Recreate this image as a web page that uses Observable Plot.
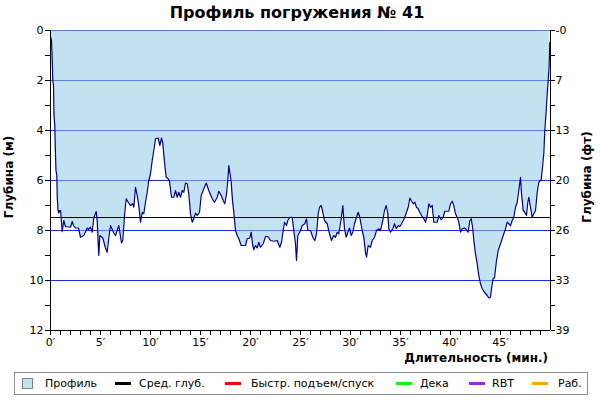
<!DOCTYPE html>
<html>
<head>
<meta charset="utf-8">
<script src="https://cdn.jsdelivr.net/npm/d3@7"></script>
<script src="https://cdn.jsdelivr.net/npm/@observablehq/plot@0.6"></script>
<style>
  html, body { margin: 0; padding: 0; background: #fff; }
  #wrap { position: relative; width: 600px; height: 400px; font-family: "DejaVu Sans", Verdana, sans-serif; color: #000; }
  #chart { position: absolute; left: 0; top: 0; }
  .title { position: absolute; left: 0; top: 3px; width: 594px; text-align: center; font-weight: bold; font-size: 16px; }
  .alabel { position: absolute; font-weight: bold; font-size: 12px; white-space: nowrap; }
  .rot { transform-origin: center center; transform: translate(-50%, -50%) rotate(-90deg); }
  #legend { position: absolute; left: 14px; top: 372px; width: 574px; height: 23px; border: 1px solid #8c8c8c; box-sizing: border-box; font-size: 11px; }
  .li { position: absolute; top: 0; height: 21px; line-height: 21px; white-space: nowrap; }
  .sw { position: absolute; top: 9px; width: 16px; height: 3px; }
  .sq { position: absolute; top: 4px; width: 11px; height: 11px; border: 1px solid #808080; box-sizing: border-box; background: #c2e2f2; }
</style>
</head>
<body>
<div id="wrap">
  <div id="chart"></div>
  <div class="title" id="title"></div>
  <div class="alabel rot" id="ylabL" style="left:9px; top:177px;"></div>
  <div class="alabel rot" id="ylabR" style="left:587px; top:177px;"></div>
  <div class="alabel" id="xlab" style="right:52px; top:351px;"></div>
  <div id="legend"></div>
</div>
<script>
const titleText = "Профиль погружения № 41";
const yLabelLeft = "Глубина (м)";
const yLabelRight = "Глубина (фт)";
const xLabel = "Длительность (мин.)";

// dive profile: time (min) and depth (m)
const times = [0.05,0.10,0.17,0.23,0.30,0.35,0.43,0.48,0.55,0.63,0.68,0.75,0.83,0.90,1.00,1.05,1.17,1.33,1.5,1.7,
  2.0,2.17,2.3,2.5,2.8,3.0,3.33,3.67,3.8,4.0,4.17,4.33,4.57,4.67,4.77,4.83,4.93,5.23,5.5,5.67,
  5.83,6.0,6.33,6.5,6.83,7.1,7.23,7.4,7.57,7.77,8.0,8.23,8.33,8.5,8.67,8.83,9.0,9.17,9.33,9.5,
  9.67,9.83,10.0,10.17,10.33,10.5,10.77,10.93,11.1,11.23,11.4,11.57,11.77,11.9,12.1,12.33,12.5,12.67,12.83,13.0,
  13.17,13.33,13.5,13.67,13.83,14.0,14.17,14.33,14.5,14.67,14.9,15.07,15.33,15.57,15.83,16.17,16.4,16.67,16.83,17.07,
  17.27,17.43,17.6,17.73,17.83,17.93,18.07,18.2,18.33,18.5,18.67,18.83,19.07,19.5,19.67,19.93,20.07,20.2,20.33,20.5,
  20.67,20.83,21.0,21.27,21.5,21.73,22.0,22.33,22.67,22.93,23.1,23.27,23.4,23.6,23.73,23.93,24.17,24.33,24.5,24.6,
  24.73,24.83,25.0,25.17,25.43,25.6,25.73,26.0,26.23,26.43,26.6,26.77,26.9,27.07,27.23,27.4,27.67,27.9,28.1,28.33,
  28.5,28.67,28.83,29.07,29.23,29.4,29.57,29.73,29.9,30.07,30.23,30.4,30.6,30.77,30.93,31.17,31.33,31.5,31.6,31.77,
  32.0,32.17,32.4,32.6,32.83,33.0,33.23,33.4,33.57,33.73,33.83,34.0,34.23,34.4,34.57,34.77,34.93,35.1,35.27,35.43,
  35.6,35.77,35.93,36.1,36.27,36.43,36.6,36.77,36.93,37.1,37.33,37.5,37.67,37.83,38.0,38.17,38.33,38.67,38.83,39.07,
  39.27,39.43,39.83,40.0,40.17,40.33,40.5,40.67,40.83,41.0,41.17,41.4,41.6,41.77,41.93,42.07,42.23,42.33,42.5,42.67,
  42.83,43.0,43.17,43.4,43.67,43.83,44.0,44.1,44.27,44.4,44.6,44.77,45.0,45.17,45.33,45.5,45.67,45.83,46.0,46.17,
  46.33,46.5,46.67,46.83,47.0,47.1,47.27,47.43,47.6,47.73,47.83,48.0,48.17,48.33,48.5,48.67,48.83,49.07,49.2,49.33,
  49.43,49.57,49.67,49.77,49.87,49.93];
const depths = [0.3,0.4,1.1,2.0,2.2,3.4,3.8,4.7,5.6,5.8,6.7,7.2,7.3,7.2,7.2,7.4,8.05,7.6,7.85,7.85,
  7.87,7.64,7.8,7.9,7.9,8.27,8.2,7.9,7.95,7.87,8.07,7.5,7.24,7.6,8.5,9.0,8.2,8.3,8.7,8.87,
  8.3,7.8,8.1,8.2,7.8,8.5,8.4,7.4,6.73,6.87,7.0,6.93,7.07,6.27,6.6,7.0,7.67,7.27,7.33,6.87,
  6.47,6.0,5.73,5.2,4.8,4.33,4.3,4.6,4.3,4.5,5.27,5.87,5.93,6.03,6.67,6.67,6.4,6.67,6.47,6.67,
  6.4,6.47,6.1,6.13,6.53,7.33,7.67,7.53,7.3,7.4,7.27,6.6,6.33,6.1,6.4,6.73,6.87,6.67,6.43,6.6,
  6.8,6.93,6.53,6.0,5.4,5.67,6.07,6.8,7.27,8.0,8.2,8.33,8.6,8.6,8.33,8.3,8.07,8.53,8.77,8.6,
  8.7,8.47,8.67,8.53,8.24,8.24,8.4,8.43,8.4,8.67,8.47,8.0,7.67,7.8,7.6,7.47,7.47,8.0,8.53,9.2,
  8.2,8.13,8.0,7.8,7.73,7.53,8.0,8.0,8.27,8.4,8.13,7.33,7.07,7.0,7.27,7.6,7.73,8.13,8.4,8.2,
  8.27,8.07,8.13,7.53,7.0,7.93,8.27,8.07,7.9,8.2,8.07,7.73,7.47,7.27,7.47,8.0,8.27,8.87,9.07,8.6,
  8.67,8.4,8.27,8.0,7.93,8.0,7.6,7.2,7.0,7.33,7.93,8.07,7.93,7.73,7.93,7.8,7.84,7.73,7.6,7.47,
  7.27,7.07,6.7,6.83,6.93,6.87,7.07,7.13,7.27,7.4,7.53,7.67,7.4,6.93,7.07,7.0,7.67,7.67,7.4,7.57,
  7.47,7.23,7.23,6.93,6.83,7.0,7.33,7.47,7.67,8.07,7.93,7.9,7.97,8.07,7.6,7.53,7.93,8.4,8.93,9.33,
  9.8,10.13,10.33,10.47,10.6,10.7,10.67,10.33,9.9,9.9,9.2,8.8,8.53,8.33,8.13,7.93,7.67,7.73,7.8,7.6,
  7.47,7.07,6.87,6.4,5.87,6.53,7.2,7.27,7.4,6.87,6.67,7.07,7.47,7.33,7.2,6.47,6.07,5.97,5.47,4.93,
  4.0,3.2,2.53,2.0,1.33,0.47];
const avgDepth = [7.48];
const diveEnd = 50;

// axes
const depthTicks = [0,1,2,3,4,5,6,7,8,9,10,11,12];
const depthLabels = ["0","2","4","6","8","10","12"];
const feetLabels = ["-0","7","13","20","26","33","39"];
const gridDepths = [0,2,4,6,8,10];
const minuteTicks = [0,1,2,3,4,5,6,7,8,9,10,11,12,13,14,15,16,17,18,19,20,21,22,23,24,25,26,27,28,29,30,31,32,33,34,35,36,37,38,39,40,41,42,43,44,45,46,47,48,49];
const minuteLabels = [0,5,10,15,20,25,30,35,40,45];

// legend
const legendNames = ["Профиль","Сред. глуб.","Быстр. подъем/спуск","Дека","RBT","Раб."];
const legendColors = ["#c2e2f2","#000000","#ff0000","#00ff00","#a020f0","#ffa500"];

const profile = times.map((t, i) => ({t, d: depths[i]}));

const chart = Plot.plot({
  width: 600,
  height: 400,
  marginTop: 30,
  marginBottom: 70,
  marginLeft: 50,
  marginRight: 50,
  style: {fontFamily: "DejaVu Sans, Verdana, sans-serif", fontSize: "11px", background: "transparent", color: "#000"},
  x: {domain: [0, diveEnd]},
  y: {domain: [0, 12], reverse: true},
  marks: [
    Plot.ruleY(gridDepths, {stroke: "#1030e0", strokeWidth: 1, shapeRendering: "crispEdges"}),
    Plot.areaY(profile, {x: "t", y1: 0, y2: "d", fill: "#90c8e6", fillOpacity: 0.55, curve: "linear"}),
    Plot.ruleY(avgDepth, {stroke: "#000", strokeWidth: 1, shapeRendering: "crispEdges"}),
    Plot.lineY(profile, {x: "t", y: "d", stroke: "#00008b", strokeWidth: 1.2}),
    Plot.ruleX([0, diveEnd], {stroke: "#000", shapeRendering: "crispEdges"}),
    Plot.ruleY([12], {stroke: "#000", shapeRendering: "crispEdges"}),
    Plot.axisY({anchor: "left", ticks: depthTicks, tickSize: 5, tickPadding: 2, label: null,
      tickFormat: d => d % 2 === 0 ? depthLabels[d / 2] : ""}),
    Plot.axisY({anchor: "right", ticks: depthTicks, tickSize: 4, tickPadding: 1, label: null,
      tickFormat: d => d % 2 === 0 ? feetLabels[d / 2] : ""}),
    Plot.axisX({ticks: minuteTicks, tickSize: 5, tickPadding: 3, label: null,
      tickFormat: d => minuteLabels.includes(d) ? d + "′" : ""})
  ]
});
document.getElementById("chart").appendChild(chart);

document.getElementById("title").textContent = titleText;
document.getElementById("ylabL").textContent = yLabelLeft;
document.getElementById("ylabR").textContent = yLabelRight;
document.getElementById("xlab").textContent = xLabel;

const legendX = [[22, 45], [115, 139], [225, 251], [396, 420], [469, 492], [532, 558]];
const leg = document.getElementById("legend");
legendNames.forEach((name, i) => {
  const [sx, tx] = legendX[i];
  const sw = document.createElement("div");
  if (i === 0) {
    sw.className = "sq";
    sw.style.top = "5px";
  } else {
    sw.className = "sw";
    sw.style.background = legendColors[i];
  }
  sw.style.left = (sx - 15) + "px";
  leg.appendChild(sw);
  const tx_ = document.createElement("div");
  tx_.className = "li";
  tx_.style.left = (tx - 15) + "px";
  tx_.textContent = name;
  leg.appendChild(tx_);
});
</script>
</body>
</html>
